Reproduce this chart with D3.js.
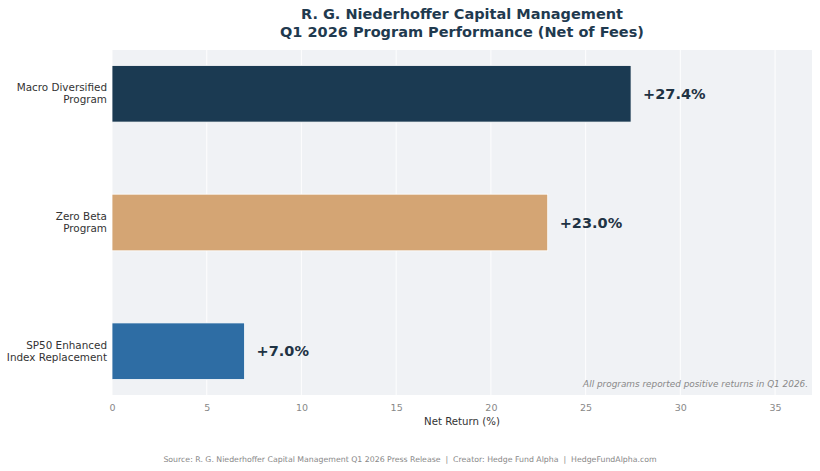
<!DOCTYPE html>
<html><head><meta charset="utf-8">
<script src="https://cdn.jsdelivr.net/npm/d3@7/dist/d3.min.js"></script>
<style>body{margin:0;background:#fff;} svg{display:block;font-family:"DejaVu Sans",sans-serif;}</style>
</head><body>
<script>
const programs = ["Macro Diversified\nProgram", "Zero Beta\nProgram", "SP50 Enhanced\nIndex Replacement"];
const returns = [27.4, 23.0, 7.0];
const colors = ["#1b3a52", "#d4a574", "#2e6da4"];
const xTicks = [0, 5, 10, 15, 20, 25, 30, 35];
const titleLines = ["R. G. Niederhoffer Capital Management", "Q1 2026 Program Performance (Net of Fees)"];
const note = "All programs reported positive returns in Q1 2026.";
const source = "Source: R. G. Niederhoffer Capital Management Q1 2026 Press Release  |  Creator: Hedge Fund Alpha  |  HedgeFundAlpha.com";

const W = 820, H = 471;
const m = {left: 112, right: 8, top: 50, bottom: 76};
const pw = W - m.left - m.right, ph = H - m.top - m.bottom;

const svg = d3.select("body").append("svg").attr("width", W).attr("height", H);
const g = svg.append("g").attr("transform", `translate(${m.left},${m.top})`);

const x = d3.scaleLinear().domain([0, 36.95]).range([0, pw]);
const y = d3.scaleBand().domain(programs).range([0, ph]).paddingInner(0.56).paddingOuter(0.12);

g.append("rect").attr("width", pw).attr("height", ph).attr("fill", "#f0f2f5");

g.selectAll(".grid").data(xTicks).join("line")
  .attr("x1", d => x(d)).attr("x2", d => x(d)).attr("y1", 0).attr("y2", ph)
  .attr("stroke", "#ffffff").attr("stroke-width", 1.2).attr("opacity", 0.8);

g.selectAll(".bar").data(programs).join("rect")
  .attr("x", x(0)).attr("y", d => y(d))
  .attr("width", (d, i) => x(returns[i]) - x(0))
  .attr("height", y.bandwidth())
  .attr("fill", (d, i) => colors[i])
  .attr("stroke", "#ffffff").attr("stroke-width", 0.8);

g.selectAll(".val").data(programs).join("text")
  .attr("x", (d, i) => x(returns[i]) + 12)
  .attr("y", d => y(d) + y.bandwidth() / 2)
  .attr("dy", "0.36em")
  .attr("font-size", 14.5).attr("font-weight", "bold").attr("fill", "#1f3344")
  .text((d, i) => `+${returns[i].toFixed(1)}%`);

// y labels
const yl = g.selectAll(".yl").data(programs).join("text")
  .attr("x", -5).attr("text-anchor", "end")
  .attr("y", d => y(d) + y.bandwidth() / 2)
  .attr("font-size", 10.4).attr("fill", "#333");
yl.each(function(d) {
  const lines = d.split("\n");
  const t = d3.select(this);
  lines.forEach((l, i) => {
    t.append("tspan").attr("x", -5)
      .attr("dy", i === 0 ? `${-(lines.length - 1) * 0.58 + 0.35}em` : "1.16em")
      .text(l);
  });
});

// x axis
const xa = g.append("g").attr("transform", `translate(0,${ph})`)
  .call(d3.axisBottom(x).tickValues(xTicks).tickSize(0).tickPadding(9));
xa.select(".domain").remove();
xa.selectAll("text").attr("font-size", 9.5).attr("fill", "#888").attr("font-family", "DejaVu Sans");

svg.append("text").attr("x", m.left + pw / 2).attr("y", 425)
  .attr("text-anchor", "middle").attr("font-size", 10.2).attr("fill", "#333")
  .text("Net Return (%)");

g.append("text").attr("x", pw - 4).attr("y", ph - 8)
  .attr("text-anchor", "end").attr("font-size", 8.9).attr("font-style", "italic").attr("fill", "#888")
  .text(note);

svg.selectAll(".title").data(titleLines).join("text")
  .attr("x", m.left + pw / 2).attr("y", (d, i) => 19 + i * 18)
  .attr("text-anchor", "middle").attr("font-size", 14.5).attr("font-weight", "bold").attr("fill", "#1f3a4f")
  .text(d => d);

svg.append("text").attr("x", W / 2).attr("y", 462)
  .attr("text-anchor", "middle").attr("font-size", 7.8).attr("fill", "#888")
  .style("white-space", "pre")
  .text(source);
</script>
</body></html>
